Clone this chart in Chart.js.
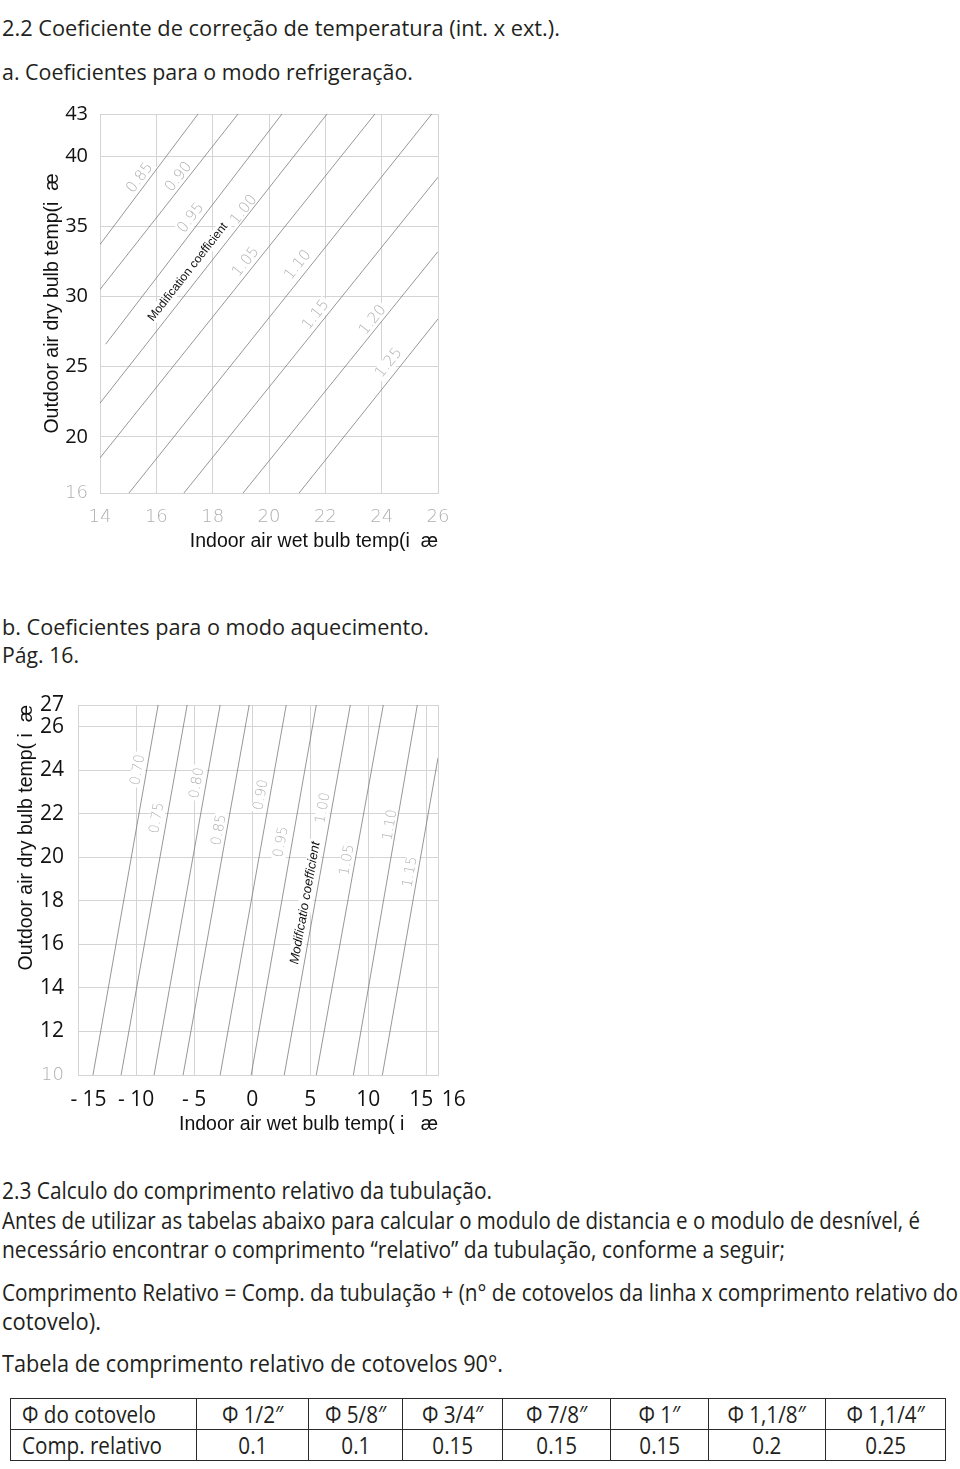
<!DOCTYPE html>
<html lang="pt">
<head>
<meta charset="UTF-8">
<title>Coeficiente de correção de temperatura</title>
<script src="https://cdn.jsdelivr.net/npm/chart.js"></script>
<style>
  body { margin: 0; background: #fff; color: #231f20; font-family: "Open Sans", sans-serif; }
  .page { position: relative; width: 960px; height: 1469px; overflow: hidden; }
  .txt { position: absolute; left: 2px; white-space: nowrap; font-size: 21px; line-height: 26px; transform-origin: 0 50%; }
  .cond { font-size: 24px; }
  .chartbox { position: absolute; left: 0; }
  table { position: absolute; left: 10px; top: 1398px; width: 935px; border-collapse: collapse; table-layout: fixed; }
  td { border: 1.5px solid #2a2a2a; height: 30px; padding: 0; text-align: center; font-size: 24px; line-height: 28px; white-space: nowrap; }
  td span { display: inline-block; transform: scaleX(0.86); }
  td.first { text-align: left; padding-left: 11px; }
  td.first span { transform-origin: 0 50%; }
</style>
</head>
<body>
<div class="page">
  <div class="txt fit" data-w="558" style="top:15px">2.2 Coeficiente de correção de temperatura (int. x ext.).</div>
  <div class="txt fit" data-w="411" style="top:59px">a. Coeficientes para o modo refrigeração.</div>

  <div class="chartbox" style="top:90px; width:470px; height:480px;"><canvas id="coolChart" width="470" height="480"></canvas></div>

  <div class="txt fit" data-w="427" style="top:614px">b. Coeficientes para o modo aquecimento.</div>
  <div class="txt fit" data-w="77" style="top:642px">Pág. 16.</div>

  <div class="chartbox" style="top:680px; width:470px; height:470px;"><canvas id="heatChart" width="470" height="470"></canvas></div>

  <div class="txt cond fit" data-w="490" style="top:1177px">2.3 Calculo do comprimento relativo da tubulação.</div>
  <div class="txt cond fit" data-w="918" style="top:1207px">Antes de utilizar as tabelas abaixo para calcular o modulo de distancia e o modulo de desnível, é</div>
  <div class="txt cond fit" data-w="783" style="top:1236px">necessário encontrar o comprimento “relativo” da tubulação, conforme a seguir;</div>
  <div class="txt cond fit" data-w="956" style="top:1279px">Comprimento Relativo = Comp. da tubulação + (n° de cotovelos da linha x comprimento relativo do</div>
  <div class="txt cond fit" data-w="99" style="top:1308px">cotovelo).</div>
  <div class="txt cond fit" data-w="501" style="top:1350px">Tabela de comprimento relativo de cotovelos 90°.</div>

  <table>
    <colgroup>
      <col style="width:186px"><col style="width:112px"><col style="width:94px"><col style="width:100px">
      <col style="width:108px"><col style="width:98px"><col style="width:117px"><col style="width:120px">
    </colgroup>
    <tr>
      <td class="first"><span>Φ do cotovelo</span></td>
      <td><span>Φ 1/2″</span></td><td><span>Φ 5/8″</span></td><td><span>Φ 3/4″</span></td>
      <td><span>Φ 7/8″</span></td><td><span>Φ 1″</span></td><td><span>Φ 1,1/8″</span></td><td><span>Φ 1,1/4″</span></td>
    </tr>
    <tr>
      <td class="first"><span>Comp. relativo</span></td>
      <td><span>0.1</span></td><td><span>0.1</span></td><td><span>0.15</span></td>
      <td><span>0.15</span></td><td><span>0.15</span></td><td><span>0.2</span></td><td><span>0.25</span></td>
    </tr>
  </table>
</div>

<script>
// a. cooling mode: each coefficient line from (indoor, outdoor) start to end
const coolCoef = ['0.85', '0.90', '0.95', '1.00', '1.05', '1.10', '1.15', '1.20', '1.25'];
const coolIndoorFrom = [14, 14, 14.2, 14, 14, 15.03, 16.98, 19.08, 21.07];
const coolOutdoorFrom = [33.7, 30.5, 26.6, 22.4, 18.5, 16, 16, 16, 16];
const coolIndoorTo = [17.48, 18.9, 20.46, 22.06, 23.76, 25.78, 26, 26, 26];
const coolOutdoorTo = [43, 43, 43, 43, 43, 43, 38.5, 33.2, 28.4];
const coolLabelIndoor = [15.42, 16.8, 17.23, 19.11, 19.18, 21.03, 21.67, 23.69, 24.26];
const coolLabelOutdoor = [38.44, 38.51, 35.59, 36.16, 32.46, 32.24, 28.68, 28.32, 25.26];
const coolXTicks = [14, 16, 18, 20, 22, 24, 26];
const coolYTicks = [16, 20, 25, 30, 35, 40, 43];

// b. heating mode
const heatCoef = ['0.70', '0.75', '0.80', '0.85', '0.90', '0.95', '1.00', '1.05', '1.10', '1.15'];
const heatIndoorFrom = [-13.71, -11.29, -8.45, -5.95, -2.76, -0.09, 2.76, 5.52, 8.71, 11.21];
const heatOutdoorFrom = [10, 10, 10, 10, 10, 10, 10, 10, 10, 10];
const heatIndoorTo = [-8.1, -5.6, -2.76, -0.26, 2.93, 5.52, 8.45, 11.29, 14.22, 16];
const heatOutdoorTo = [27, 27, 27, 27, 27, 27, 27, 27, 27, 24.57];
const heatLabelIndoor = [-9.83, -8.19, -4.74, -2.84, 0.78, 2.5, 6.12, 8.19, 11.9, 13.62];
const heatLabelOutdoor = [24.02, 21.81, 23.42, 21.26, 22.87, 20.71, 22.27, 19.88, 21.49, 19.33];
const heatXTicks = [-15, -10, -5, 0, 5, 10, 15, 16];
const heatYTicks = [10, 12, 14, 16, 18, 20, 22, 24, 26, 27];

const GRID = '#d4d4d4';
const LINE = '#747474';
const PALE = '#b0b0b0';
const numFont = { family: '"Open Sans", sans-serif', size: 20 };
const paleFont = { family: '"DejaVu Sans", sans-serif', size: 18, weight: 200 };
const titleFont = { family: '"Liberation Sans", Arial, sans-serif', size: 19.5 };

// the heating x labels sit a little off their grid lines in the original
const EN = '\u2002';
function heatTickText(v) {
  if (v === -15) return EN + EN + '- 15';
  if (v === 15) return '15' + EN;
  if (v === 16) return EN + EN + EN + '16';
  return v < 0 ? '- ' + Math.abs(v) : String(v);
}

// rotated coefficient labels, turned to the angle of their own line
const coefLabels = {
  id: 'coefLabels',
  beforeDatasetsDraw(chart, args, opts) {
    const { ctx } = chart;
    const sx = chart.scales.x, sy = chart.scales.y;
    opts.items.forEach(it => {
      const d = chart.data.datasets[it.line].data;
      const ang = Math.atan2(sy.getPixelForValue(d[1].y) - sy.getPixelForValue(d[0].y),
                             sx.getPixelForValue(d[1].x) - sx.getPixelForValue(d[0].x));
      ctx.save();
      ctx.translate(sx.getPixelForValue(it.x), sy.getPixelForValue(it.y));
      ctx.rotate(ang);
      ctx.font = it.font;
      const w = ctx.measureText(it.text).width;
      ctx.fillStyle = '#fff';
      ctx.fillRect(-w / 2 - 2, -it.h / 2, w + 4, it.h);
      ctx.fillStyle = it.color;
      ctx.textAlign = 'center';
      ctx.textBaseline = 'middle';
      ctx.fillText(it.text, 0, 0);
      ctx.restore();
    });
  }
};

function lines(from, fromY, to, toY) {
  return from.map((v, i) => ({
    data: [{ x: v, y: fromY[i] }, { x: to[i], y: toY[i] }],
    showLine: true, borderColor: LINE, borderWidth: 0.75, pointRadius: 0, fill: false
  }));
}

function makeChart(id, cfg) {
  return new Chart(document.getElementById(id), {
    type: 'scatter',
    data: { datasets: lines(cfg.from, cfg.fromY, cfg.to, cfg.toY) },
    options: {
      responsive: false, animation: false, devicePixelRatio: 1,
      layout: { padding: cfg.padding },
      plugins: { legend: { display: false }, tooltip: { enabled: false }, coefLabels: { items: cfg.labels } },
      scales: {
        x: {
          type: 'linear', min: cfg.xMin, max: cfg.xMax,
          afterBuildTicks: s => { s.ticks = cfg.xTicks.map(v => ({ value: v })); },
          afterFit: s => { s.height = cfg.xHeight; s.paddingLeft = 0; s.paddingRight = 0; },
          grid: { color: GRID, drawTicks: false }, border: { color: GRID },
          ticks: {
            padding: cfg.xPad, autoSkip: false, maxRotation: 0,
            color: cfg.xPale ? PALE : '#111', font: cfg.xPale ? paleFont : { family: numFont.family, size: 21 },
            callback: cfg.xText
          },
          title: { display: true, text: cfg.xTitle, align: 'end', font: titleFont, color: '#111',
                   padding: { top: 0, bottom: cfg.xTitlePad } }
        },
        y: {
          type: 'linear', min: cfg.yMin, max: cfg.yMax,
          afterBuildTicks: s => { s.ticks = cfg.yTicks.map(v => ({ value: v })); },
          afterFit: s => { s.width = cfg.yWidth; s.paddingTop = 0; s.paddingBottom = 0; },
          grid: { color: GRID, drawTicks: false }, border: { color: GRID },
          ticks: {
            padding: cfg.yPad, autoSkip: false,
            color: c => c.tick && c.tick.value === cfg.yMin ? PALE : '#111',
            font: c => c.tick && c.tick.value === cfg.yMin ? paleFont : { family: numFont.family, size: cfg.ySize }
          },
          title: { display: true, text: cfg.yTitle, align: cfg.yAlign, font: titleFont, color: '#111',
                   padding: { top: cfg.yTitlePad, bottom: 0 } }
        }
      }
    },
    plugins: [coefLabels]
  });
}

const coolItems = coolCoef.map((t, i) => ({
  text: t, line: i, x: coolLabelIndoor[i], y: coolLabelOutdoor[i],
  font: '200 15px "DejaVu Sans", sans-serif', color: PALE, h: 15
}));
coolItems.push({ text: 'Modification coefficient', line: 3, x: 17.12, y: 31.74,
  font: '12px "Liberation Sans", Arial, sans-serif', color: '#111', h: 13 });

makeChart('coolChart', {
  from: coolIndoorFrom, fromY: coolOutdoorFrom, to: coolIndoorTo, toY: coolOutdoorTo,
  xMin: 14, xMax: 26, yMin: 16, yMax: 43, xTicks: coolXTicks, yTicks: coolYTicks,
  padding: { top: 24, right: 32, left: 0, bottom: 0 },
  xHeight: 77, yWidth: 100, xPad: 14, yPad: 12, ySize: 20, xPale: true, xText: v => String(v),
  xTitle: 'Indoor air wet bulb temp(i  æ', xTitlePad: 17,
  yTitle: 'Outdoor air dry bulb temp(i  æ', yTitlePad: 41, yAlign: 'center',
  labels: coolItems
});

const heatItems = heatCoef.map((t, i) => ({
  text: t, line: i, x: heatLabelIndoor[i], y: heatLabelOutdoor[i],
  font: '200 14px "DejaVu Sans", sans-serif', color: PALE, h: 14
}));
heatItems.push({ text: 'Modificatio coefficient', line: 6, x: 4.57, y: 17.9,
  font: 'italic 13px "Liberation Sans", Arial, sans-serif', color: '#111', h: 14 });

makeChart('heatChart', {
  from: heatIndoorFrom, fromY: heatOutdoorFrom, to: heatIndoorTo, toY: heatOutdoorTo,
  xMin: -15, xMax: 16, yMin: 10, yMax: 27, xTicks: heatXTicks, yTicks: heatYTicks,
  padding: { top: 25, right: 32, left: 0, bottom: 0 },
  xHeight: 75, yWidth: 78, xPad: 12, yPad: 14, ySize: 21, xPale: false, xText: heatTickText,
  xTitle: 'Indoor air wet bulb temp( i   æ', xTitlePad: 14,
  yTitle: 'Outdoor air dry bulb temp( i  æ', yTitlePad: 15, yAlign: 'end',
  labels: heatItems
});

// squeeze each text line to the width it has in the original page
document.querySelectorAll('.fit').forEach(el => {
  el.style.display = 'inline-block';
  const w = el.getBoundingClientRect().width;
  el.style.transform = 'scaleX(' + (Number(el.dataset.w) / w) + ')';
});
</script>
</body>
</html>
